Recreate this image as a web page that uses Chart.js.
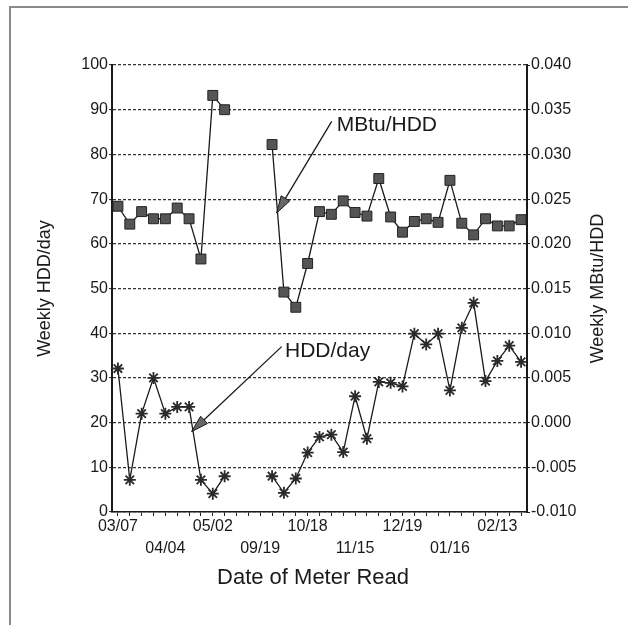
<!DOCTYPE html>
<html><head><meta charset="utf-8">
<script src="https://cdn.jsdelivr.net/npm/chart.js@4"></script>
<style>html,body{margin:0;padding:0;background:#fff;} #wrap{position:relative;width:628px;height:625px;} canvas{display:block}</style>
</head><body><div id="wrap"><canvas id="c" width="628" height="625"></canvas></div>
<script>
// Categories: weekly meter reads (only every 4th labelled on the axis)
const dateLabels = ['03/07','','','','04/04','','','','05/02','','','','09/19','','','',
                    '10/18','','','','11/15','','','','12/19','','','','01/16','','','','02/13','',''];
// Left axis series: Weekly HDD/day
const hddPerDay = [32.1, 7.2, 22.0, 30.0, 22.0, 23.5, 23.5, 7.2, 4.1, 8.0, null, null, null,
                   8.0, 4.3, 7.5, 13.3, 16.8, 17.3, 13.4, 25.9, 16.4, 29.1, 28.9, 28.1,
                   39.9, 37.5, 39.9, 27.2, 41.2, 46.8, 29.3, 33.8, 37.2, 33.6];
// Right axis series: Weekly MBtu/HDD
const mbtuPerHdd = [0.0242, 0.0222, 0.0236, 0.0228, 0.0228, 0.0240, 0.0228, 0.0183, 0.0366, 0.0350, null, null, null,
                    0.0311, 0.0146, 0.0129, 0.0178, 0.0236, 0.0233, 0.0248, 0.0235, 0.0231, 0.0273, 0.0230, 0.0213,
                    0.0225, 0.0228, 0.0224, 0.0271, 0.0223, 0.0210, 0.0228, 0.0220, 0.0220, 0.0227];
// Tick labels
const hddTicks = [0, 10, 20, 30, 40, 50, 60, 70, 80, 90, 100];
const mbtuTicks = [-0.010, -0.005, 0.000, 0.005, 0.010, 0.015, 0.020, 0.025, 0.030, 0.035, 0.040];

const FONT = "'Liberation Sans', Arial, Helvetica, sans-serif";
const INK = '#1a1a1a';

// Annotation anchors in data coordinates [category index, left-axis value]
const notes = [
  {text: 'MBtu/HDD', textAt: [18.45, 86.5], from: [18.03, 87.4], to: [13.39, 66.9]},
  {text: 'HDD/day',  textAt: [14.09, 35.9], from: [13.81, 37.0], to: [6.22, 18.0]}
];

const decor = {
  id: 'decor',
  beforeDraw(chart) {
    const ctx = chart.ctx;
    ctx.save();
    ctx.fillStyle = '#fff';
    ctx.fillRect(0, 0, chart.width, chart.height);
    ctx.fillStyle = '#8a8a8a';
    ctx.fillRect(9, 6, chart.width - 9, 2);
    ctx.fillRect(9, 6, 2, chart.height - 6);
    ctx.restore();
  },
  afterDraw(chart) {
    const ctx = chart.ctx, xs = chart.scales.x, ys = chart.scales.y;
    const P = (p) => [xs.getPixelForValue(p[0]), ys.getPixelForValue(p[1])];
    ctx.save();
    notes.forEach(n => {
      const [x1, y1] = P(n.from), [x2, y2] = P(n.to), [tx, ty] = P(n.textAt);
      ctx.strokeStyle = INK; ctx.lineWidth = 1.3;
      ctx.beginPath(); ctx.moveTo(x1, y1); ctx.lineTo(x2, y2); ctx.stroke();
      const a = Math.atan2(y2 - y1, x2 - x1), L = 17, W = 5;
      const bx = x2 - L * Math.cos(a), by = y2 - L * Math.sin(a);
      ctx.beginPath();
      ctx.moveTo(x2, y2);
      ctx.lineTo(bx + W * Math.sin(a), by - W * Math.cos(a));
      ctx.lineTo(bx - W * Math.sin(a), by + W * Math.cos(a));
      ctx.closePath();
      ctx.fillStyle = '#666'; ctx.fill(); ctx.lineWidth = 1; ctx.stroke();
      ctx.fillStyle = INK; ctx.font = '21px ' + FONT;
      ctx.textAlign = 'left'; ctx.textBaseline = 'middle';
      ctx.fillText(n.text, tx, ty);
    });
    // x axis title
    ctx.font = '22px ' + FONT; ctx.fillStyle = INK;
    ctx.textAlign = 'center'; ctx.textBaseline = 'middle';
    ctx.fillText('Date of Meter Read', 313, 578);
    // right axis title, reading bottom-to-top
    ctx.translate(598, (chart.chartArea.top + chart.chartArea.bottom) / 2);
    ctx.rotate(-Math.PI / 2);
    ctx.font = '18px ' + FONT;
    ctx.fillText('Weekly MBtu/HDD', 0, 0);
    ctx.restore();
  }
};

new Chart(document.getElementById('c'), {
  type: 'line',
  data: {
    labels: dateLabels,
    datasets: [
      {
        label: 'MBtu/HDD', data: mbtuPerHdd, yAxisID: 'y1',
        borderColor: INK, borderWidth: 1.3, tension: 0, spanGaps: false,
        pointStyle: 'rect', pointRadius: 7, pointBackgroundColor: '#555',
        pointBorderColor: '#222', pointBorderWidth: 1
      },
      {
        label: 'HDD/day', data: hddPerDay, yAxisID: 'y',
        borderColor: INK, borderWidth: 1.3, tension: 0, spanGaps: false,
        pointStyle: 'star', pointRadius: 6, pointBackgroundColor: '#333',
        pointBorderColor: '#2a2a2a', pointBorderWidth: 1.8
      }
    ]
  },
  options: {
    responsive: false, animation: false, devicePixelRatio: 1,
    layout: {padding: {top: 65, left: 0, right: 0, bottom: 0}},
    plugins: {legend: {display: false}, tooltip: {enabled: false}},
    scales: {
      x: {
        type: 'category', offset: true,
        grid: {display: true, drawOnChartArea: false, drawTicks: true, tickLength: 4, tickColor: '#222', tickWidth: 1},
        border: {display: true, color: INK, width: 1.5},
        ticks: {
          autoSkip: false, maxRotation: 0, minRotation: 0, padding: 0, color: INK,
          font: {family: FONT, size: 16, lineHeight: 1.375},
          callback: function (v, i) {
            const l = dateLabels[i];
            if (!l) return '';
            return (i / 4) % 2 === 1 ? ['', l] : l;
          }
        },
        title: {display: false},
        afterFit(s) { s.height = 113; }
      },
      y: {
        position: 'left', min: hddTicks[0], max: hddTicks[hddTicks.length - 1],
        ticks: {stepSize: hddTicks[1] - hddTicks[0], padding: 1, color: INK, font: {family: FONT, size: 16}},
        grid: {color: '#333', lineWidth: 1.2, tickLength: 3, tickColor: '#222', tickWidth: 1},
        border: {display: true, dash: [3, 2], color: INK, width: 2},
        title: {display: true, text: 'Weekly HDD/day', color: INK,
                font: {family: FONT, size: 18, lineHeight: 1.2}, padding: {top: 34, bottom: 0}},
        afterFit(s) { s.width = 112; }
      },
      y1: {
        position: 'right', min: mbtuTicks[0], max: mbtuTicks[mbtuTicks.length - 1],
        ticks: {stepSize: mbtuTicks[1] - mbtuTicks[0], padding: 1, color: INK, font: {family: FONT, size: 16},
                callback: v => Number(v).toFixed(3)},
        grid: {drawOnChartArea: false, tickLength: 3, tickColor: '#222', tickWidth: 1},
        border: {display: true, color: INK, width: 2},
        afterFit(s) { s.width = 101; }
      }
    }
  },
  plugins: [decor]
});
</script>
</body></html>
